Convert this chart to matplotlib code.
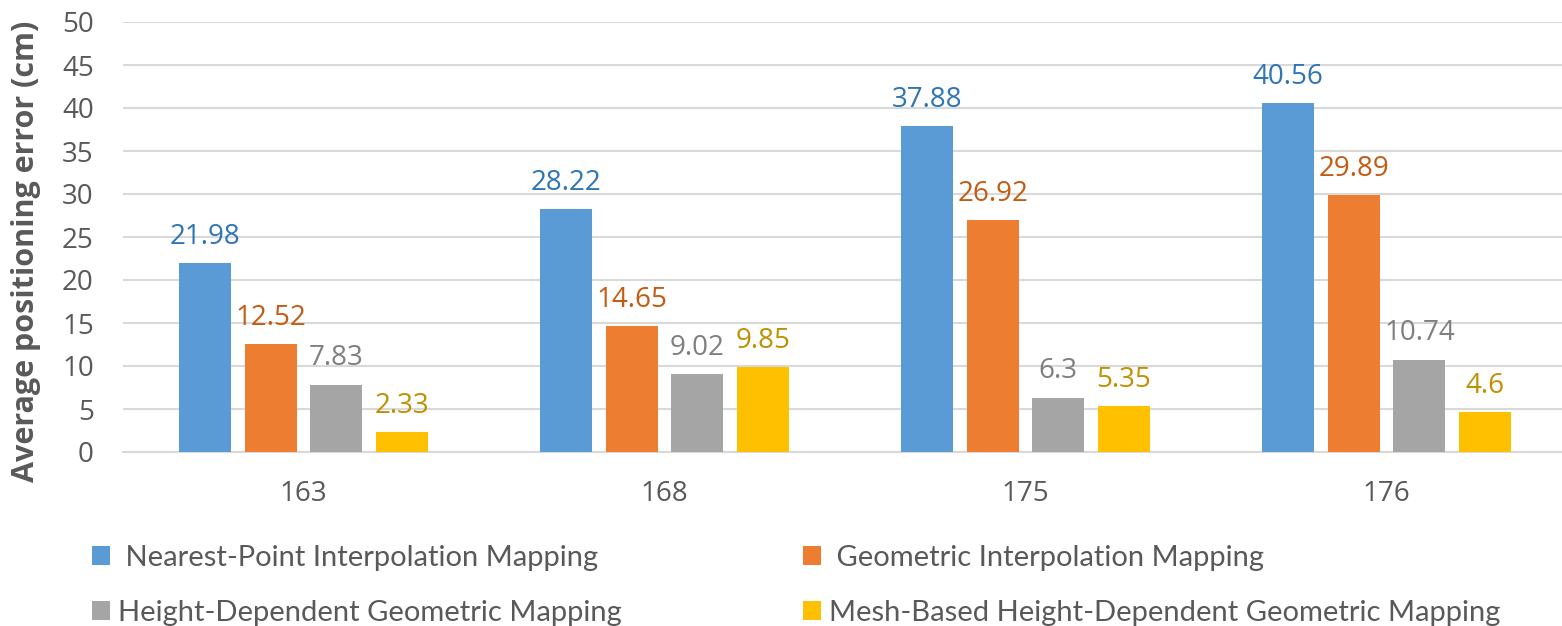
import matplotlib
matplotlib.use("Agg")
import matplotlib.pyplot as plt
from matplotlib.patches import Patch
import numpy as np

categories = ["163", "168", "175", "176"]
series_names = [
    " Nearest-Point Interpolation Mapping",
    " Geometric Interpolation Mapping",
    "Height-Dependent Geometric Mapping",
    "Mesh-Based Height-Dependent Geometric Mapping",
]
nearest_point = [21.98, 28.22, 37.88, 40.56]
geometric = [12.52, 14.65, 26.92, 29.89]
height_dependent = [7.83, 9.02, 6.3, 10.74]
mesh_based = [2.33, 9.85, 5.35, 4.6]
yticks = [0, 5, 10, 15, 20, 25, 30, 35, 40, 45, 50]

series = [nearest_point, geometric, height_dependent, mesh_based]
bar_colors = ["#5B9BD5", "#ED7D31", "#A5A5A5", "#FFC000"]
label_colors = ["#2E75B6", "#C55A11", "#7F7F7F", "#BF9000"]
text_color = "#595959"

plt.rcParams["font.family"] = ["Open Sans", "DejaVu Sans"]

W, H = 1562, 626
fig = plt.figure(figsize=(W / 100, H / 100), dpi=100)
left_px, right_px, top_px, bottom_px = 123, 1567, 22, 452
ax = fig.add_axes([left_px / W, 1 - bottom_px / H, (right_px - left_px) / W, (bottom_px - top_px) / H])

x = np.arange(len(categories))
step = 0.182
width = 0.144
for i, (vals, bc, lc) in enumerate(zip(series, bar_colors, label_colors)):
    pos = x + (i - 1.5) * step
    ax.bar(pos, vals, width=width, color=bc, zorder=3)
    for p, v in zip(pos, vals):
        ax.annotate(f"{v:g}", (p, v), xytext=(0, 14), textcoords="offset points",
                    ha="center", va="baseline", fontsize=20, color=lc, zorder=4)

ax.set_xlim(-0.5, 3.5)
ax.set_ylim(0, 50)
ax.set_yticks(yticks)
ax.set_xticks(x)
ax.set_xticklabels(categories)
ax.grid(axis="y", color="#D9D9D9", linewidth=1.5, zorder=0)
for s in ["top", "right", "left"]:
    ax.spines[s].set_visible(False)
ax.spines["bottom"].set_color("#D9D9D9")
ax.spines["bottom"].set_linewidth(1.5)
ax.tick_params(axis="both", length=0, labelsize=20, labelcolor=text_color)
ax.tick_params(axis="y", pad=21)
ax.tick_params(axis="x", pad=20)

fig.text(26 / W, 1 - 251 / H, "Average positioning error (cm)", rotation=90,
         ha="center", va="center", fontsize=22, fontweight="bold", color=text_color)

handles = [Patch(facecolor=c, edgecolor="none") for c in bar_colors]
order = [0, 2, 1, 3]
leg = fig.legend([handles[i] for i in order], [series_names[i] for i in order],
                 ncol=2, loc="upper left", bbox_to_anchor=(92 / W, 1 - 545 / H),
                 frameon=False, prop={"family": ["Lato", "DejaVu Sans"], "size": 21},
                 handlelength=0.62, handleheight=0.62,
                 handletextpad=0.27, columnspacing=6.2, labelspacing=1.0,
                 labelcolor=text_color, borderaxespad=0, borderpad=0)

fig.savefig("out.png", dpi=100)
